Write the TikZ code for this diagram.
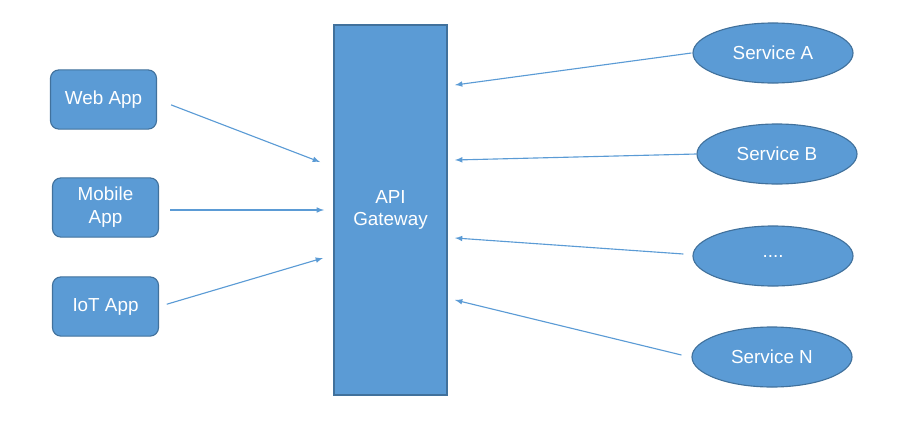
\documentclass[tikz,border=0pt]{standalone}
\usepackage{fontspec}
\setmainfont{Liberation Sans}
\usepackage{xcolor}
\usepackage{tikz}
\usetikzlibrary{shapes,arrows,positioning,calc}

\definecolor{boxblue}{HTML}{5B9BD5}
\definecolor{edgeblue}{HTML}{41719C}

\begin{document}
\begin{tikzpicture}[x=0.025cm, y=-0.025cm,
  app/.style={draw=edgeblue, fill=boxblue, rounded corners=6pt, line width=0.8pt,
    minimum width=2.65cm, minimum height=1.48cm, align=center, text=white,
    font=\fontsize{13.4}{16.3}\selectfont},
  svc/.style={ellipse, draw=edgeblue, fill=boxblue, line width=0.8pt,
    minimum width=4cm, minimum height=1.5cm, text=white,
    font=\fontsize{13.4}{16.3}\selectfont},
  conn/.style={-latex, boxblue, line width=0.8pt}]
\useasboundingbox (0,0) rectangle (901,428);

% client apps
\node[app] (web) at (103.5,99.5) {Web App};
\node[app] (mobile) at (105.5,207.5) {Mobile\\App};
\node[app] (iot) at (105.5,306.5) {IoT App};

% gateway
\node[draw=edgeblue, fill=boxblue, line width=0.8pt, minimum width=2.825cm,
  minimum height=9.25cm, align=center, text=white,
  font=\fontsize{13.4}{16.3}\selectfont] (gw) at (390.5,210) {API\\Gateway};

% services
\node[svc] (sa) at (773,53) {Service A};
\node[svc] (sb) at (777,154) {Service B};
\node[svc] (sd) at (773,256) {....};
\node[svc] (sn) at (772,357) {Service N};

% arrow ends near the gateway
\coordinate (w1) at (320,162);
\coordinate (w2) at (324,210);
\coordinate (w3) at (323,258);
\coordinate (e1) at (455,85);
\coordinate (e2) at (455,160);
\coordinate (e3) at (455,238);
\coordinate (e4) at (455,300);

% requests in
\draw[conn, shorten <=15*0.025cm] (web.east) -- (w1);
\draw[conn, shorten <=11*0.025cm] (mobile.east |- w2) -- (w2);
\draw[conn, shorten <=8*0.025cm] (iot.east) -- (w3);

% services out
\draw[conn] ($(sa.west)+(-1,0)$) -- (e1);
\draw[conn] ($(sb.west)+(0,0)$) -- (e2);
\draw[conn] ($(sd.west)+(-9,-2)$) -- (e3);
\draw[conn] ($(sn.west)+(-10,-2)$) -- (e4);
\end{tikzpicture}
\end{document}
